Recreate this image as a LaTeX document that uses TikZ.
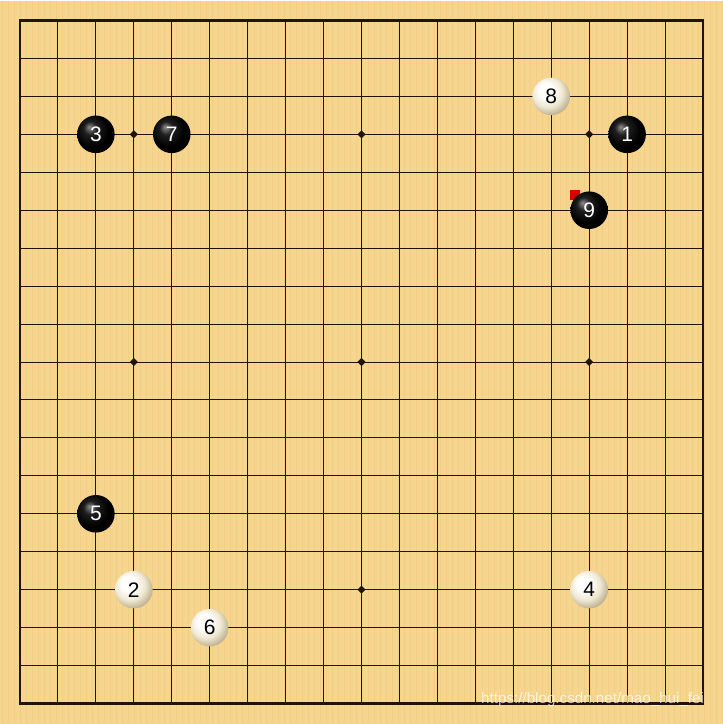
\documentclass[tikz,border=0pt]{standalone}
\usepackage{fontspec}
\setmainfont{Liberation Sans}
\usetikzlibrary{shapes,arrows.meta}
\definecolor{boardwood}{HTML}{F6D68E}
\definecolor{boardgrain}{HTML}{EBC678}
\definecolor{gridline}{HTML}{1E140A}
\definecolor{stonecream}{HTML}{EFE8D2}
\definecolor{stonerim}{HTML}{BFB393}
\pgfdeclareradialshading{blackstoneshade}{\pgfpoint{-9bp}{10bp}}{color(0bp)=(black!45); color(9bp)=(black!88); color(22bp)=(black); color(50bp)=(black)}
\pgfdeclareradialshading{whitestoneshade}{\pgfpoint{-9bp}{10bp}}{color(0bp)=(white); color(10bp)=(white!92!stonecream); color(20bp)=(stonecream); color(29bp)=(stonerim); color(50bp)=(stonerim)}
\newcommand{\blackstone}[3] {\node at (#1) (#2) [bstone] {#3};}
\newcommand{\whitestone}[3] {\node at (#1) (#2) [wstone] {#3};}
\newcommand{\starpoint}[2] {\node at (#1) (#2) [hoshi] {};}

\begin{document}
\begin{tikzpicture}[x=0.5pt, y=-0.5pt,
  bstone/.style={circle, minimum size=18.8pt, inner sep=0pt, shading=blackstoneshade, text=white, font=\fontsize{10.5}{12}\selectfont},
  wstone/.style={circle, minimum size=18.8pt, inner sep=0pt, shading=whitestoneshade, text=black, font=\fontsize{10.5}{12}\selectfont},
  hoshi/.style={diamond, fill=gridline, minimum size=4.2pt, inner sep=0pt}]

\fill [boardwood] (0,0) rectangle (724,724);
\foreach \g in {3,9,...,723} \draw [boardgrain, line width=0.5pt, opacity=0.45] (\g,0) -- (\g,724);

% grid
\foreach \i in {1,...,17} {
  \draw [gridline, line width=0.5pt] (20+38*\i,20) -- (20+38*\i,704);
  \draw [gridline, line width=0.5pt] (20,20+38*\i) -- (704,20+38*\i);
}
\draw [gridline, line width=1.2pt] (20,20) rectangle (704,704);

\starpoint {134,134}{h1};
\starpoint {362,134}{h2};
\starpoint {590,134}{h3};
\starpoint {134,362}{h4};
\starpoint {362,362}{h5};
\starpoint {590,362}{h6};
\starpoint {134,590}{h7};
\starpoint {362,590}{h8};
\starpoint {590,590}{h9};

% last move marker
\fill [red!85!black] (571,190) rectangle (581,200);

\blackstone {628,134}{s1}{1};
\whitestone {134,590}{s2}{2};
\blackstone {96,134}{s3}{3};
\whitestone {590,590}{s4}{4};
\blackstone {96,514}{s5}{5};
\whitestone {210,628}{s6}{6};
\blackstone {172,134}{s7}{7};
\whitestone {552,96}{s8}{8};
\blackstone {590,210}{s9}{9};

\node at (712,700) (mark) [anchor=east, text=white, opacity=0.7, font=\fontsize{7.6}{9}\selectfont] {https://blog.csdn.net/mao\_hui\_fei};

\end{tikzpicture}
\end{document}
